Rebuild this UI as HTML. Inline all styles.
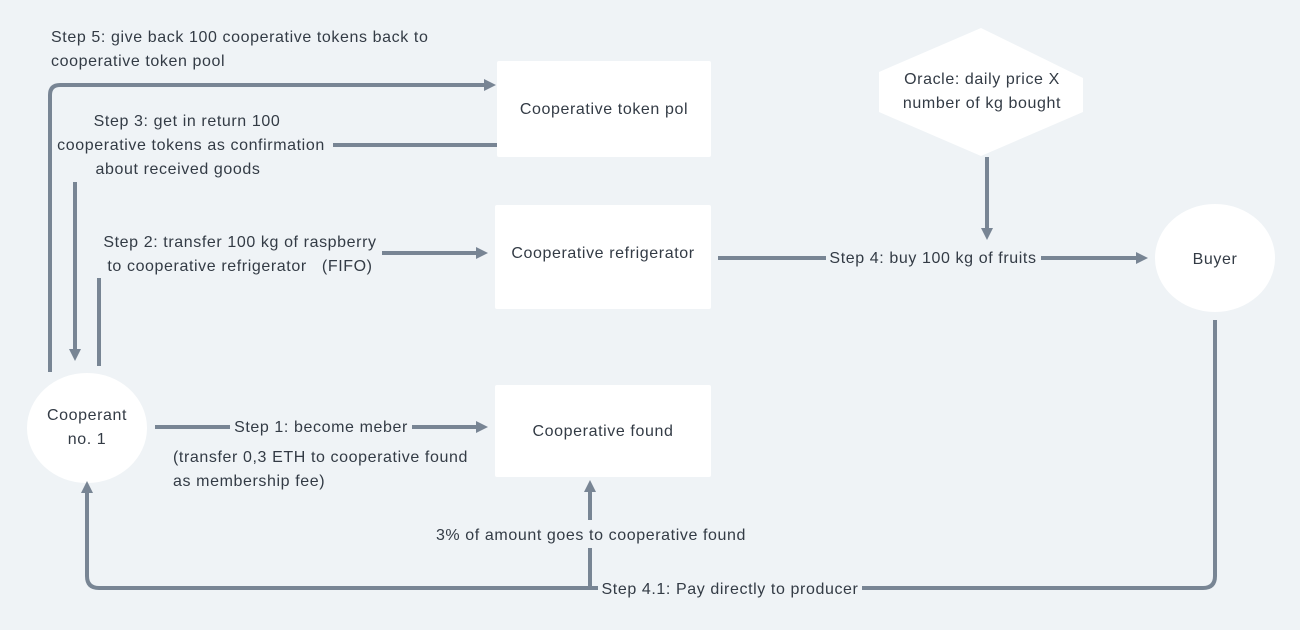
<!DOCTYPE html>
<html><head><meta charset="utf-8"><style>
html,body{margin:0;padding:0;background:#eff3f6}
svg{display:block}
text{font-family:"Liberation Sans",sans-serif;font-size:16px;letter-spacing:0.6px;fill:#333b45}
</style></head><body>
<svg width="1300" height="630" viewBox="0 0 1300 630">
<defs><marker id="a" markerWidth="12" markerHeight="12" refX="6" refY="6" orient="auto" markerUnits="userSpaceOnUse"><path d="M0,0L12,6L0,12z" fill="#788594"/></marker></defs>
<rect width="1300" height="630" fill="#eff3f6"/>
<g fill="#fff">
<rect x="497" y="61" width="214" height="96" rx="2"/>
<rect x="495" y="205" width="216" height="104" rx="2"/>
<rect x="495" y="385" width="216" height="92" rx="2"/>
<ellipse cx="87" cy="428" rx="60" ry="55"/>
<ellipse cx="1215" cy="258" rx="60" ry="54"/>
<polygon points="981,28 1083,78 1083,112 981,156 879,112 879,72"/>
</g>
<g stroke="#788594" stroke-width="4" fill="none">
<path d="M50,372 V95 Q50,85 60,85 H490" marker-end="url(#a)"/>
<path d="M333,145 H497"/>
<path d="M75,182 V355" marker-end="url(#a)"/>
<path d="M99,278 V366"/>
<path d="M382,253 H482" marker-end="url(#a)"/>
<path d="M718,258 H826"/>
<path d="M1041,258 H1142" marker-end="url(#a)"/>
<path d="M987,157 V234" marker-end="url(#a)"/>
<path d="M155,427 H230"/>
<path d="M412,427 H482" marker-end="url(#a)"/>
<path d="M1215,320 V576 Q1215,588 1203,588 H862"/>
<path d="M598,588 H99 Q87,588 87,576 V487" marker-end="url(#a)"/>
<path d="M590,588 V548"/>
<path d="M590,520 V486" marker-end="url(#a)"/>
</g>
<text x="51" y="42">Step 5: give back 100 cooperative tokens back to</text>
<text x="51" y="66">cooperative token pool</text>
<g text-anchor="middle">
<text x="604" y="114">Cooperative token pol</text>
<text x="187" y="126">Step 3: get in return 100</text>
<text x="191" y="150">cooperative tokens as confirmation</text>
<text x="178" y="174">about received goods</text>
<text x="240" y="247">Step 2: transfer 100 kg of raspberry</text>
<text x="240" y="271" xml:space="preserve">to cooperative refrigerator   (FIFO)</text>
<text x="603" y="258">Cooperative refrigerator</text>
<text x="933" y="263">Step 4: buy 100 kg of fruits</text>
<text x="982" y="84">Oracle: daily price X</text>
<text x="982" y="108">number of kg bought</text>
<text x="1215" y="264">Buyer</text>
<text x="87" y="420">Cooperant</text>
<text x="87" y="444">no. 1</text>
<text x="321" y="432">Step 1: become meber</text>
<text x="603" y="436">Cooperative found</text>
<text x="591" y="540">3% of amount goes to cooperative found</text>
<text x="730" y="594">Step 4.1: Pay directly to producer</text>
</g>
<text x="173" y="462">(transfer 0,3 ETH to cooperative found</text>
<text x="173" y="486">as membership fee)</text>
</svg>
</body></html>
